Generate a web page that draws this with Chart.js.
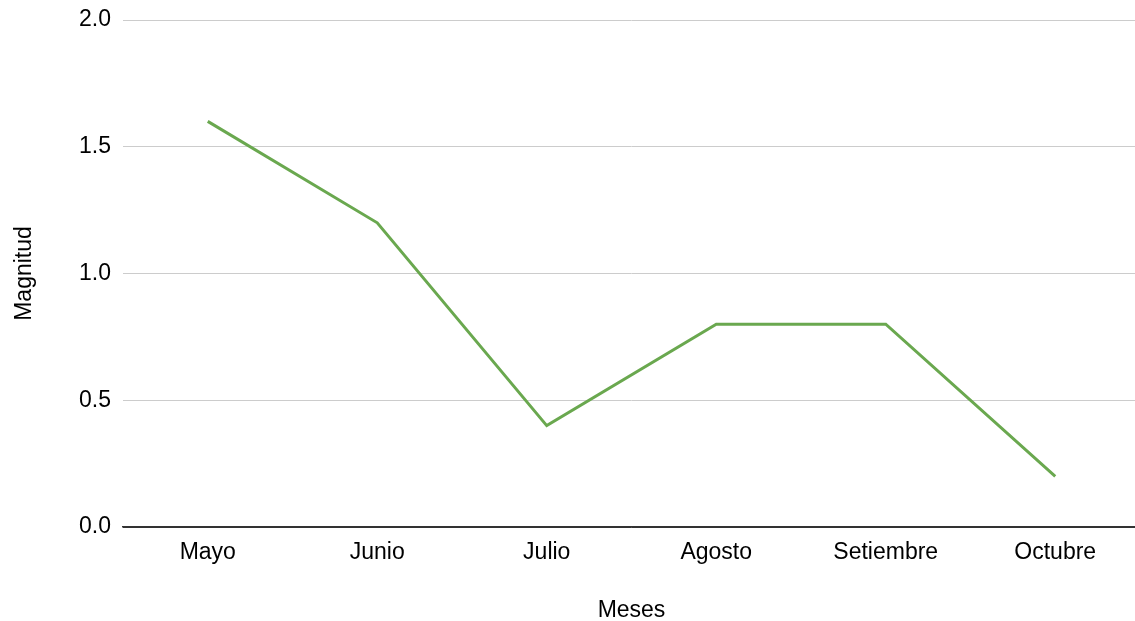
<!DOCTYPE html>
<html>
<head>
<meta charset="utf-8">
<script src="https://cdn.jsdelivr.net/npm/chart.js@4/dist/chart.umd.min.js"></script>
<style>
  html, body { margin: 0; padding: 0; background: #fff; overflow: hidden; }
  #wrap { width: 1140px; height: 621px; }
</style>
</head>
<body>
<div id="wrap"><canvas id="c" width="1140" height="621"></canvas></div>
<script>
const months = ['Mayo', 'Junio', 'Julio', 'Agosto', 'Setiembre', 'Octubre'];
const magnitud = [1.6, 1.2, 0.4, 0.8, 0.8, 0.2];
const yTicks = [0, 0.5, 1.0, 1.5, 2.0];

const FONT = '"Liberation Sans", Arial, Helvetica, sans-serif';
const FSIZE = 23;

new Chart(document.getElementById('c'), {
  type: 'line',
  data: {
    labels: months,
    datasets: [{
      label: 'Magnitud',
      data: magnitud,
      borderColor: '#6aa84f',
      borderWidth: 3,
      pointRadius: 0,
      tension: 0,
      fill: false
    }]
  },
  options: {
    responsive: false,
    animation: false,
    layout: { padding: { top: 20, right: 0, bottom: 0, left: 11 } },
    plugins: { legend: { display: false }, tooltip: { enabled: false } },
    scales: {
      x: {
        offset: true,
        grid: { display: false, drawTicks: false },
        border: { display: true, color: '#333', width: 1.5 },
        ticks: { color: '#000', font: { family: FONT, size: FSIZE }, padding: 12 },
        title: { display: true, text: 'Meses', color: '#000', font: { family: FONT, size: FSIZE }, padding: { top: 26, bottom: -3 } },
        afterFit: s => { s.height = 94; }
      },
      y: {
        min: 0,
        max: 2,
        afterBuildTicks: s => { s.ticks = yTicks.map(v => ({ value: v })); },
        grid: {
          color: ctx => ctx.tick && ctx.tick.value === 0 ? '#333' : '#cccccc',
          lineWidth: 1,
          drawTicks: false
        },
        border: { display: false },
        ticks: {
          color: '#000',
          font: { family: FONT, size: FSIZE },
          padding: 12,
          callback: v => Number(v).toFixed(1)
        },
        title: { display: true, text: 'Magnitud', color: '#000', font: { family: FONT, size: FSIZE }, padding: { top: 0, bottom: 10 } },
        afterFit: s => { s.width = 112; s.paddingTop = 0; s.paddingBottom = 0; }
      }
    }
  }
});
</script>
</body>
</html>
